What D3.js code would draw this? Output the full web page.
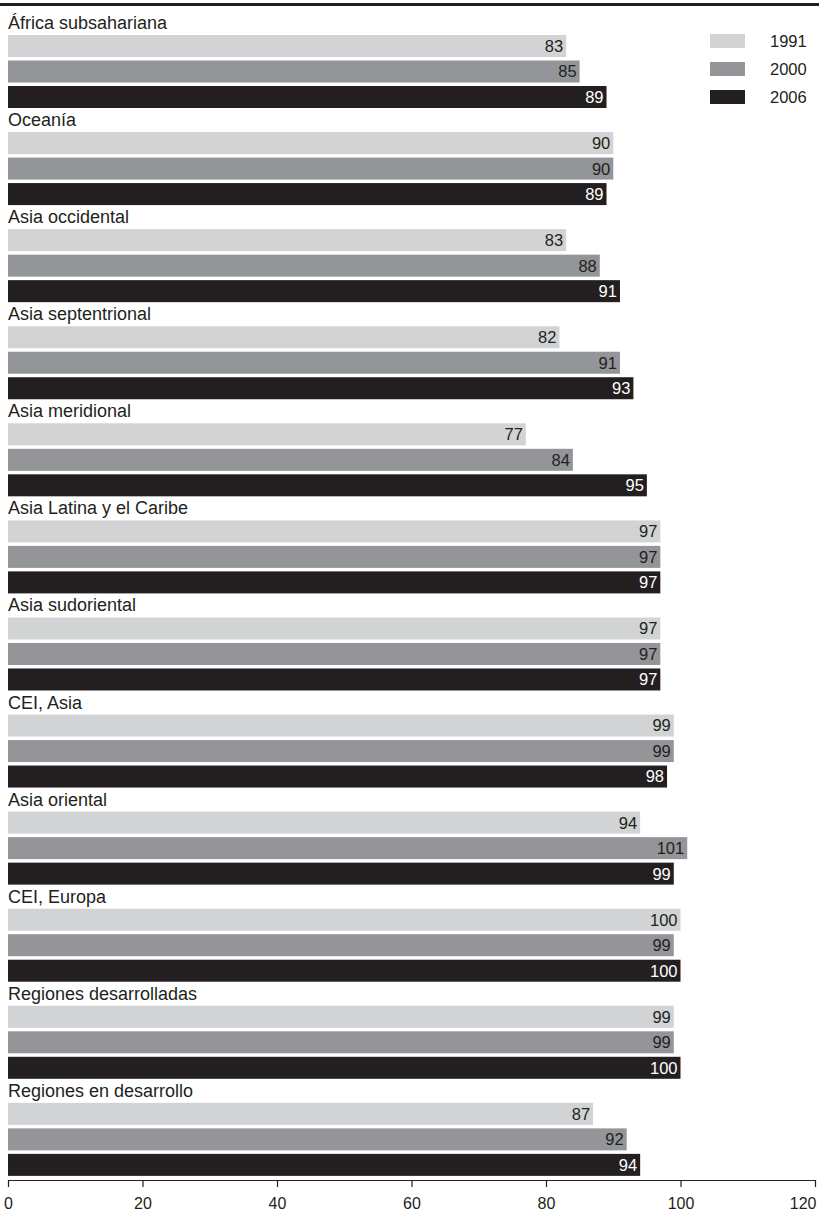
<!DOCTYPE html>
<html>
<head>
<meta charset="utf-8">
<script src="https://cdn.jsdelivr.net/npm/d3@7"></script>
<style>
  html, body { margin: 0; padding: 0; background: #fff; }
  svg { display: block; font-family: "Liberation Sans", Arial, Helvetica, sans-serif; }
</style>
</head>
<body>
<svg id="chart" width="819" height="1212"></svg>
<script>
// Regions, listed top to bottom
const regions = [
  "África subsahariana",
  "Oceanía",
  "Asia occidental",
  "Asia septentrional",
  "Asia meridional",
  "Asia Latina y el Caribe",
  "Asia sudoriental",
  "CEI, Asia",
  "Asia oriental",
  "CEI, Europa",
  "Regiones desarrolladas",
  "Regiones en desarrollo"
];

// Survey years shown as the three bars of each region
const years = ["1991", "2000", "2006"];

// Values per year, one entry per region (same order as regions)
const values1991 = [83, 90, 83, 82, 77, 97, 97, 99, 94, 100, 99, 87];
const values2000 = [85, 90, 88, 91, 84, 97, 97, 99, 101, 99, 99, 92];
const values2006 = [89, 89, 91, 93, 95, 97, 97, 98, 99, 100, 100, 94];

// Axis ticks
const xTicks = [0, 20, 40, 60, 80, 100, 120];

const seriesValues = { "1991": values1991, "2000": values2000, "2006": values2006 };
const fills = { "1991": "#d1d3d4", "2000": "#939598", "2006": "#231f20" };
const labelFills = { "1991": "#231f20", "2000": "#231f20", "2006": "#ffffff" };
const ink = "#231f20";

const svg = d3.select("#chart");

const x = d3.scaleLinear().domain([0, 120]).range([8, 815]);

// One band per region: label line on top, three bars underneath
const yGroup = d3.scaleBand().domain(regions).range([15, 15 + 97.08 * regions.length]).padding(0);
const yBar = d3.scaleBand().domain(years).range([20, 93]).paddingInner(0.137).paddingOuter(0);

// Heavy rule along the top
svg.append("line")
  .attr("x1", 0).attr("x2", 819)
  .attr("y1", 4.5).attr("y2", 4.5)
  .attr("stroke", ink).attr("stroke-width", 3);

const groups = svg.selectAll("g.region")
  .data(regions)
  .join("g")
  .attr("class", "region")
  .attr("transform", d => `translate(0,${yGroup(d)})`);

groups.append("text")
  .attr("x", 8)
  .attr("y", 14)
  .attr("font-size", 18)
  .attr("fill", ink)
  .text(d => d);

const bars = groups.selectAll("g.bar")
  .data((d, i) => years.map(yr => ({ year: yr, value: seriesValues[yr][i] })))
  .join("g")
  .attr("class", "bar");

bars.append("rect")
  .attr("x", x(0))
  .attr("y", d => yBar(d.year))
  .attr("width", d => x(d.value) - x(0))
  .attr("height", yBar.bandwidth())
  .attr("fill", d => fills[d.year]);

bars.append("text")
  .attr("x", d => x(d.value) - 3)
  .attr("y", d => yBar(d.year) + yBar.bandwidth() / 2)
  .attr("dy", "0.36em")
  .attr("text-anchor", "end")
  .attr("font-size", 16.5)
  .attr("fill", d => labelFills[d.year])
  .text(d => d.value);

// Legend
const legend = svg.append("g").attr("class", "legend");
const legendY = d3.scalePoint().domain(years).range([34, 90]);
const legendItems = legend.selectAll("g")
  .data(years)
  .join("g")
  .attr("transform", d => `translate(710,${legendY(d)})`);
legendItems.append("rect")
  .attr("width", 35).attr("height", 14)
  .attr("fill", d => fills[d]);
legendItems.append("text")
  .attr("x", 60).attr("y", 7).attr("dy", "0.36em")
  .attr("font-size", 16.5)
  .attr("fill", ink)
  .text(d => d);

// Bottom axis
const axis = svg.append("g")
  .attr("transform", "translate(0,1180)")
  .call(d3.axisBottom(x).tickValues(xTicks).tickSize(7).tickSizeOuter(0).tickPadding(11));
axis.select(".domain").attr("stroke", ink).attr("stroke-width", 1.2);
axis.selectAll(".tick line").attr("stroke", ink).attr("stroke-width", 1.2);
axis.selectAll(".tick text")
  .attr("font-size", 16)
  .attr("font-family", "\"Liberation Sans\", Arial, Helvetica, sans-serif")
  .attr("fill", ink);
// The last label sits flush against the right edge
axis.selectAll(".tick text")
  .filter(d => d === xTicks[xTicks.length - 1])
  .attr("text-anchor", "end")
  .attr("x", 1);
</script>
</body>
</html>
